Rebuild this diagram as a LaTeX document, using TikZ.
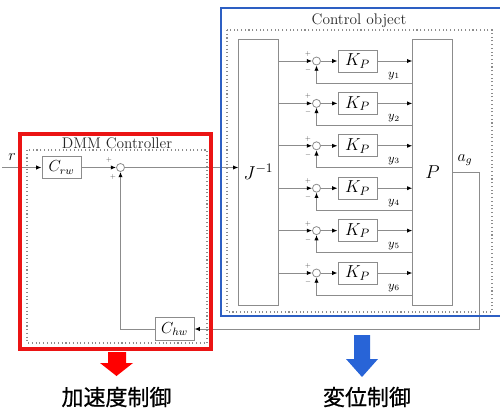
\RequirePackage{fix-cm}
\documentclass[tikz,border=0pt]{standalone}
\usepackage{fontspec}
\newfontfamily\cjk[FakeBold=0.6]{Noto Sans CJK JP}
\usetikzlibrary{arrows.meta,calc}
\definecolor{lg}{RGB}{140,140,140}
\definecolor{redbox}{RGB}{235,20,20}
\definecolor{bluebox}{RGB}{45,95,195}
\definecolor{bluearrow}{RGB}{40,100,215}
\tikzset{
  blk/.style={draw=lg, fill=white, line width=0.7pt, inner sep=0pt},
  smallblk/.style={blk, minimum width=29.25pt, minimum height=17pt, font=\fontsize{12}{14}\selectfont},
  kblk/.style={blk, minimum width=29.25pt, minimum height=16.5pt, font=\fontsize{13}{15}\selectfont},
  tallblk/.style={blk, minimum width=29.5pt, minimum height=199.5pt, font=\fontsize{14}{16}\selectfont},
  sumnode/.style={circle, draw=lg, fill=white, line width=0.6pt, minimum size=6pt, inner sep=0pt},
  wire/.style={draw=lg, line width=0.7pt},
  sig/.style={wire, -{Latex[color=black,length=4pt,width=3.2pt]}},
  dotbox/.style={draw=lg, dotted, line width=0.8pt},
  sgn/.style={font=\fontsize{4.5}{5}\selectfont, inner sep=0pt, text=black!70},
  ylab/.style={font=\fontsize{9}{10}\selectfont, inner sep=0pt},
  ttl/.style={font=\fontsize{11.5}{13}\selectfont, inner sep=0pt, text=black!85},
  jp/.style={font=\cjk\fontsize{16.5}{18}\selectfont, inner sep=0pt},
}
\begin{document}
\begin{tikzpicture}[x=0.75pt,y=-0.75pt]
\useasboundingbox (0,0) rectangle (500,414);
% dotted inner frames
\draw[dotbox] (27,150) rectangle (207,343);
\draw[dotbox] (227,30) rectangle (492,312);
\node[ttl] (dmmt) at (117,143) {DMM Controller};
\node[ttl] (cot) at (359,21) {Control object};
% DMM controller
\coordinate (rin) at (2,167.5);
\node[smallblk] (crw) at (61.5,167.5) {$C_{rw}$};
\node[sumnode] (s0) at (120.5,167.5) {};
\node[smallblk] (chw) at (174.5,329) {$C_{hw}$};
\node[font=\fontsize{12}{14}\selectfont, inner sep=0pt] (rl) at (12,157) {$r$};
\node[sgn] at (109,160) {$+$};
\node[sgn] at (113,177) {$+$};
% plant blocks
\node[tallblk] (J) at (258.5,172) {$J^{-1}$};
\node[tallblk] (P) at (432.5,172) {$P$};
\node[font=\fontsize{12}{14}\selectfont, inner sep=0pt] (agl) at (465,160) {$a_g$};
\draw[sig] (rin) -- (crw.west);
\draw[sig] (crw.east) -- (s0.west);
\draw[sig] (s0.east) -- (J.west |- s0);
\draw[sig] (chw.west) -- (s0 |- chw) -- (s0.south);
\coordinate (agc) at (479,172);
\draw[sig] (P.east |- agc) -- (agc) -- (agc |- chw) -- (chw.east);
\foreach \i/\yy in {1/61,2/103.4,3/145.8,4/188.2,5/230.6,6/273}{
  \node[sumnode] (s\i) at (316.5,\yy) {};
  \node[kblk] (k\i) at (357.5,\yy) {$K_P$};
  \coordinate (fb\i) at (0,\yy+22);
  \draw[sig] (J.east |- s\i) -- (s\i.west);
  \draw[sig] (s\i.east) -- (k\i.west);
  \draw[sig] (k\i.east) -- (P.west |- k\i);
  \draw[sig] (P.west |- fb\i) -- (s\i |- fb\i) -- (s\i.south);
  \node[ylab] (yl\i) at (394,\yy+15) {$y_{\i}$};
  \node[sgn] (pp\i) at (308,\yy-7) {$+$};
  \node[sgn] (mm\i) at (308,\yy+9) {$-$};
}
% colored frames
\draw[redbox, line width=2.4pt] (20,134) rectangle (211,349);
\draw[bluebox, line width=1.9pt] (221,8) rectangle (503,316);
% big arrows
\fill[red] (108,352) -- (126,352) -- (126,363) -- (133,363) -- (116.5,376) -- (100,363) -- (108,363) -- cycle;
\fill[bluearrow] (354,335) -- (370,335) -- (370,359) -- (378,359) -- (362,377) -- (346,359) -- (354,359) -- cycle;
\node[jp] (t1) at (116.5,397) {加速度制御};
\node[jp] (t2) at (367,397) {変位制御};
\end{tikzpicture}
\end{document}
